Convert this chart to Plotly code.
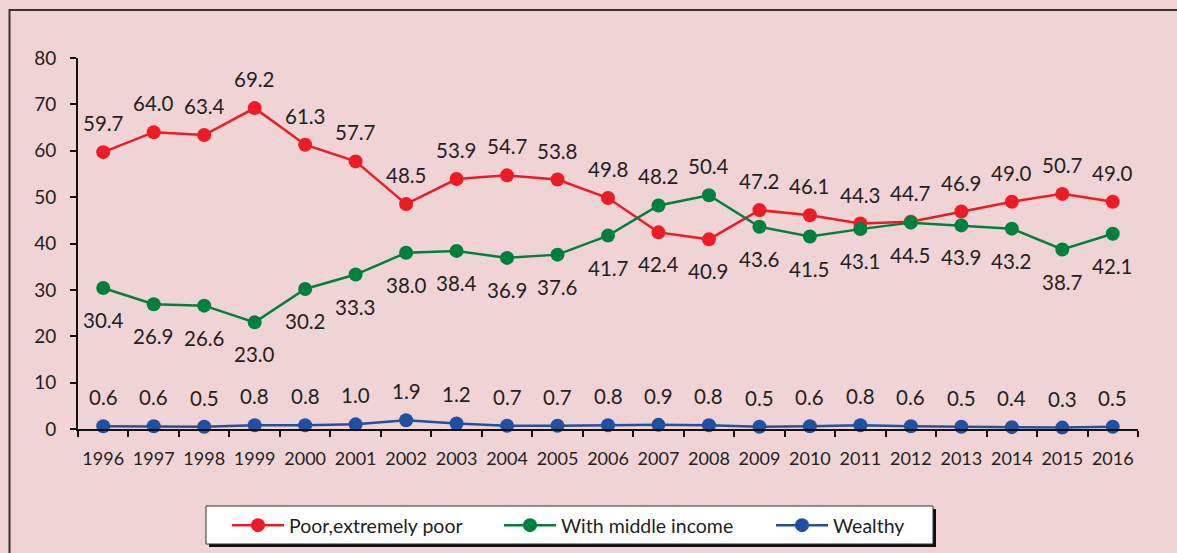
import plotly.graph_objects as go

years = [str(y) for y in range(1996, 2017)]
poor = [59.7, 64.0, 63.4, 69.2, 61.3, 57.7, 48.5, 53.9, 54.7, 53.8, 49.8,
        42.4, 40.9, 47.2, 46.1, 44.3, 44.7, 46.9, 49.0, 50.7, 49.0]
middle = [30.4, 26.9, 26.6, 23.0, 30.2, 33.3, 38.0, 38.4, 36.9, 37.6, 41.7,
          48.2, 50.4, 43.6, 41.5, 43.1, 44.5, 43.9, 43.2, 38.7, 42.1]
wealthy = [0.6, 0.6, 0.5, 0.8, 0.8, 1.0, 1.9, 1.2, 0.7, 0.7, 0.8,
           0.9, 0.8, 0.5, 0.6, 0.8, 0.6, 0.5, 0.4, 0.3, 0.5]

series = [
    ("Poor,extremely poor", poor, "#ED1C24"),
    ("With middle income", middle, "#00803C"),
    ("Wealthy", wealthy, "#2150A0"),
]

W, H = 1177, 553
L, R, T, B = 78, 39, 58, 124
BG = "#F0D4D5"
TXT = "#231F20"
FONT = "Lato, 'Open Sans', sans-serif"

fig = go.Figure()
for name, vals, col in series:
    fig.add_trace(go.Scatter(
        x=years, y=vals, name=name, mode="lines+markers",
        line=dict(color=col, width=2.5),
        marker=dict(color=col, size=14),
        cliponaxis=False,
    ))

# value labels: the higher of the red/green pair goes above, the other below
annotations = []
for i, yr in enumerate(years):
    p, m, w = poor[i], middle[i], wealthy[i]
    p_up = p >= m
    for v, up in ((p, p_up), (m, not p_up), (w, True)):
        annotations.append(dict(
            x=i, y=v, xref="x", yref="y", text=f"{v:.1f}", showarrow=False,
            yshift=29 if up else -32,
            font=dict(family=FONT, size=20.5, color=TXT),
        ))

pw, ph = W - L - R, H - T - B
def px_x(x):
    return (x - L) / pw
def px_y(y):
    return (H - B - y) / ph

# legend box (drawn as shapes so the padding around the entries can be set)
LB_X0, LB_X1, LB_Y0, LB_Y1 = 206, 933, 506, 544

shapes = [
    # outer frame (runs past the right and bottom edges)
    dict(type="rect", xref="paper", yref="paper",
         x0=px_x(9.5), x1=px_x(W + 20), y0=px_y(10), y1=px_y(H + 20),
         line=dict(color="#3A3232", width=2), fillcolor="rgba(0,0,0,0)",
         layer="below"),
    # legend drop shadow
    dict(type="rect", xref="paper", yref="paper",
         x0=px_x(LB_X0 + 3), x1=px_x(LB_X1 + 3),
         y0=px_y(LB_Y0 + 3), y1=px_y(LB_Y1 + 3),
         line=dict(width=0), fillcolor="#111111", layer="above"),
    # legend panel
    dict(type="rect", xref="paper", yref="paper",
         x0=px_x(LB_X0), x1=px_x(LB_X1), y0=px_y(LB_Y0), y1=px_y(LB_Y1),
         line=dict(color="#333333", width=1), fillcolor="white",
         layer="above"),
]

fig.update_layout(
    width=W, height=H,
    margin=dict(l=L, r=R, t=T, b=B, autoexpand=False),
    paper_bgcolor=BG, plot_bgcolor=BG,
    font=dict(family=FONT, size=17, color=TXT),
    showlegend=True,
    legend=dict(
        orientation="h", x=px_x(227), xanchor="left",
        y=px_y(506), yanchor="top",
        bgcolor="rgba(0,0,0,0)", borderwidth=0,
        font=dict(family=FONT, size=19.5, color=TXT),
        itemwidth=52, entrywidth=205, entrywidthmode="pixels",
        traceorder="normal",
    ),
    xaxis=dict(
        type="category", range=[-0.5, len(years) - 0.5],
        showgrid=False, zeroline=False,
        showline=True, linecolor="#111111", linewidth=2,
        ticks="outside", tickson="boundaries", ticklen=6, tickwidth=1.5,
        tickcolor="#111111", ticklabelstandoff=12, tickangle=0,
        tickfont=dict(family=FONT, size=18, color=TXT),
    ),
    yaxis=dict(
        range=[0, 80], dtick=10, showgrid=False, zeroline=False,
        showline=True, linecolor="#111111", linewidth=2,
        ticks="outside", ticklen=6, tickwidth=1.5, tickcolor="#111111",
        ticklabelstandoff=10,
        tickfont=dict(family=FONT, size=19, color=TXT),
    ),
    annotations=annotations,
    shapes=shapes,
)

fig.write_html("out.html")
